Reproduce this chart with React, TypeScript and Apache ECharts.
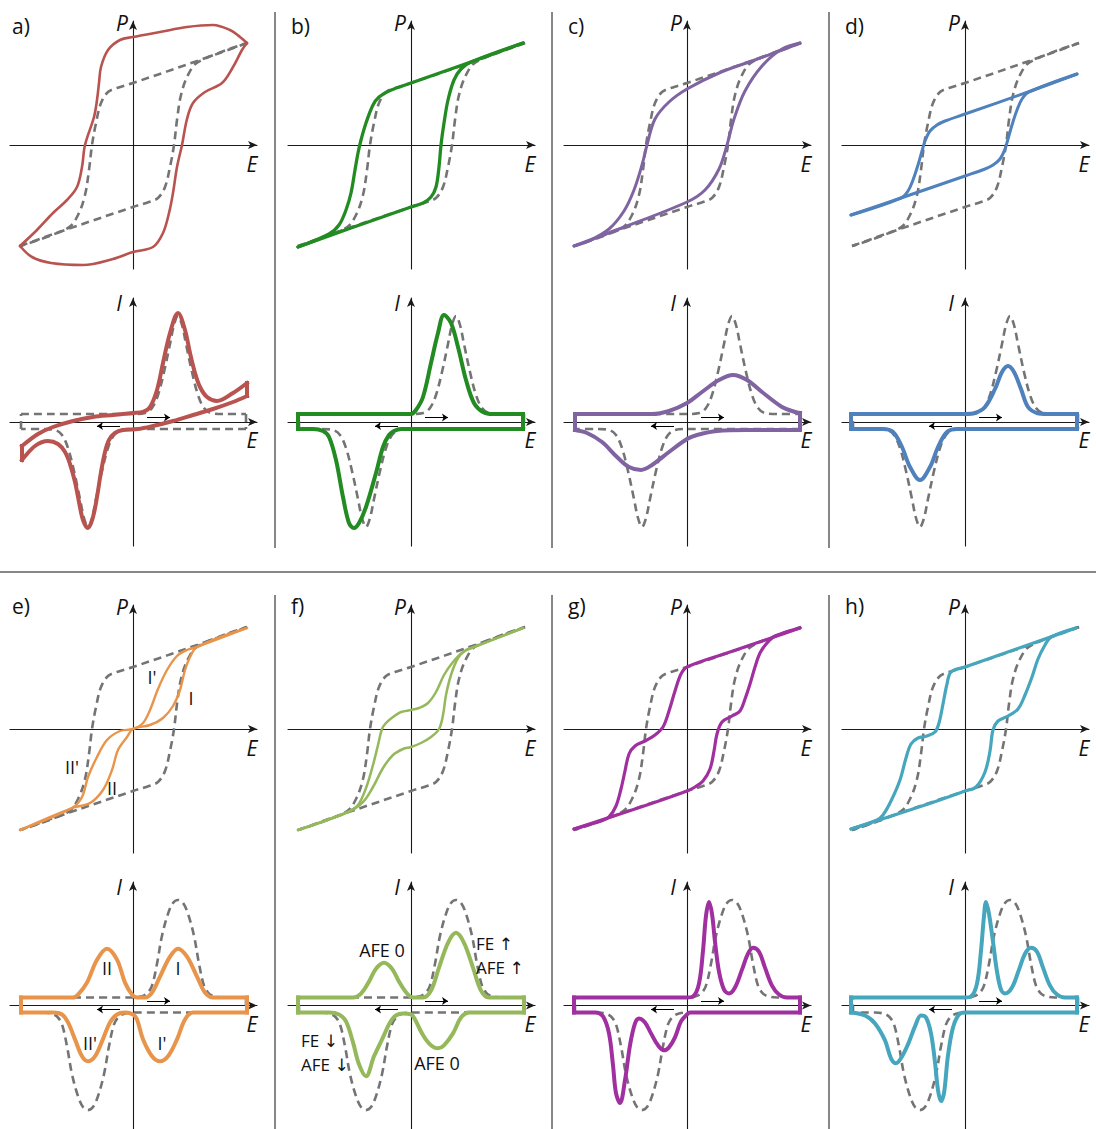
import React, { useEffect, useRef } from "react";
import * as echarts from "echarts";

type Pt = [number, number];

// ---------- reference (grey dashed) curves ----------
const refPUp: Pt[] = [[114,102],[67,85],[0,62],[-16,57],[-25,53],[-32,42],[-37,22],[-41,0],[-44,-25],[-48,-50],[-55,-70],[-65,-83],[-113,-101]];
const refPDown: Pt[] = [[-113,-101],[-65,-84],[0,-62],[16,-57],[25,-53],[32,-42],[37,-22],[41,0],[44,25],[48,50],[55,70],[65,83],[114,102]];
const refIUpTop: Pt[] = [[-112,8],[0,8],[12,9],[19,14],[25,27],[31,50],[37,78],[41,97],[45,106],[49,97],[53,78],[59,50],[65,27],[71,14],[78,9],[90,8],[113,8]];
const refIDownTop: Pt[] = [[113,-7],[0,-7],[-12,-8],[-19,-13],[-25,-26],[-31,-49],[-37,-77],[-41,-96],[-45,-105],[-49,-96],[-53,-77],[-59,-49],[-65,-26],[-71,-13],[-78,-8],[-90,-7],[-112,-7]];
const refIUpBottom: Pt[] = [[-112,8],[0,8],[8,9],[14,12],[19,20],[24,42],[29,70],[35,92],[40,103],[45,106],[50,103],[55,92],[61,70],[66,42],[71,20],[76,12],[82,9],[90,8],[113,8]];
const refIDownBottom: Pt[] = [[113,-7],[0,-7],[-8,-8],[-14,-11],[-19,-19],[-24,-41],[-29,-69],[-35,-91],[-40,-102],[-45,-105],[-50,-102],[-55,-91],[-61,-69],[-66,-41],[-71,-19],[-76,-11],[-82,-8],[-90,-7],[-112,-7]];

// ---------- a) ----------
const aPUp: Pt[] = [[114,102],[107,108],[97,115],[80,120],[54,118],[27,113],[0,108],[-13,105],[-25,95],[-32,78],[-34,62],[-36,45],[-39,28],[-48,0],[-51,-22],[-56,-42],[-66,-55],[-80,-68],[-96,-85],[-113,-101]];
const aPDown: Pt[] = [[-113,-101],[-101,-112],[-82,-118],[-50,-120],[-20,-114],[0,-107],[20,-102],[30,-88],[36,-68],[40,-48],[44,-22],[49,0],[54,26],[60,42],[72,53],[89,62],[100,78],[109,95],[114,102]];
const aIUp: Pt[] = [[-111,-24],[-95,-12],[-80,-5],[-60,1],[-40,5],[-20,7],[0,9],[10,10],[17,15],[24,32],[30,59],[37,89],[45,109],[52,92],[57,69],[62,49],[67,35],[74,25],[84,21],[100,29],[114,39]];
const aIDown: Pt[] = [[114,26],[100,20],[80,13],[60,7],[40,1],[20,-4],[5,-7],[-10,-8],[-18,-11],[-24,-18],[-28,-30],[-32,-50],[-36,-75],[-40,-95],[-45,-106],[-50,-98],[-54,-80],[-58,-60],[-63,-42],[-68,-30],[-75,-22],[-85,-19],[-98,-24],[-111,-38]];

// ---------- b) ----------
const bPUp: Pt[] = [[112,102],[57,82],[0,62],[-22,54],[-32,48],[-38,40],[-45,22],[-50,5],[-53,-8],[-56,-25],[-60,-48],[-65,-65],[-72,-80],[-82,-89],[-113,-102]];
const bPDown: Pt[] = [[-113,-102],[-60,-83],[0,-62],[12,-58],[20,-52],[25,-42],[28,-22],[30,0],[33,22],[37,45],[43,65],[50,76],[60,83],[112,102]];
const bIUp: Pt[] = [[-113,8],[-40,8],[0,8],[5,12],[12,25],[20,59],[27,89],[33,107],[40,99],[47,75],[55,42],[63,19],[72,10],[82,8],[112,8]];
const bIDown: Pt[] = [[112,-7],[20,-7],[-10,-7],[-17,-9],[-22,-13],[-28,-25],[-35,-51],[-45,-85],[-52,-101],[-57,-106],[-62,-101],[-68,-75],[-75,-38],[-82,-15],[-88,-9],[-98,-7],[-113,-7]];

// ---------- c) ----------
const cPUp: Pt[] = [[113,102],[95,95],[65,84],[32,72],[0,56],[-18,43],[-32,26],[-40,0],[-45,-20],[-53,-45],[-63,-66],[-78,-84],[-98,-96],[-113,-101]];
const cPDown: Pt[] = [[-113,-101],[-68,-84],[0,-57],[18,-45],[32,-24],[40,0],[47,26],[58,54],[75,79],[95,96],[113,102]];
const cIUp: Pt[] = [[-112,8],[-35,8],[-18,11],[0,19],[15,30],[32,42],[46,47],[60,42],[75,30],[95,15],[108,10],[113,9]];
const cIDown: Pt[] = [[113,-8],[60,-8],[30,-9],[10,-13],[0,-17],[-18,-30],[-35,-43],[-46,-48],[-58,-45],[-70,-35],[-85,-20],[-100,-11],[-112,-8]];

// ---------- d) ----------
const dPUp: Pt[] = [[112,71],[63,53],[0,31],[-20,24],[-28,20],[-35,14],[-40,4],[-43,-6],[-47,-20],[-52,-35],[-57,-46],[-64,-53],[-114,-70]];
const dPDown: Pt[] = [[-114,-70],[-64,-53],[0,-31],[20,-24],[28,-20],[35,-14],[40,-4],[43,6],[47,20],[52,35],[57,46],[64,53],[112,71]];
const dIUp: Pt[] = [[-114,8],[0,8],[10,9],[20,15],[30,33],[37,50],[43,56],[49,50],[56,33],[63,15],[72,9],[82,8],[112,8]];
const dIDown: Pt[] = [[112,-7],[-8,-7],[-18,-10],[-27,-25],[-35,-45],[-45,-58],[-55,-45],[-63,-25],[-72,-10],[-82,-7],[-114,-7]];

// ---------- e) ----------
const ePUp: Pt[] = [[114,101],[64,82],[54,79],[44,73],[34,59],[25,40],[17,19],[10,6],[0,0],[-13,-2],[-26,-11],[-36,-28],[-45,-48],[-51,-68],[-61,-79],[-113,-101]];
const ePDown: Pt[] = [[-113,-101],[-61,-79],[-43,-74],[-30,-61],[-21,-41],[-15,-21],[-6,-8],[0,0],[17,4],[30,11],[40,23],[47,39],[52,59],[57,72],[64,82],[114,101]];
const eIUp: Pt[] = [[-112,8],[-60,8],[-55,11],[-46,23],[-36,46],[-26,57],[-16,46],[-8,23],[-1,11],[4,8],[12,8],[19,13],[27,29],[37,49],[45,57],[54,49],[64,29],[72,13],[80,8],[114,8]];
const eIDown: Pt[] = [[114,-7],[60,-7],[52,-14],[44,-34],[35,-51],[27,-56],[19,-51],[10,-34],[4,-14],[0,-9],[-8,-7],[-16,-9],[-23,-17],[-31,-36],[-38,-51],[-45,-56],[-51,-51],[-58,-34],[-65,-17],[-71,-9],[-80,-7],[-112,-7]];

// ---------- f) ----------
const fPUp: Pt[] = [[112,101],[63,82],[52,77],[42,67],[33,54],[25,37],[17,26],[8,21],[0,19],[-10,17],[-18,12],[-25,6],[-29,0],[-33,-16],[-38,-36],[-45,-59],[-53,-76],[-63,-83],[-113,-101]];
const fPDown: Pt[] = [[-113,-101],[-63,-83],[-48,-73],[-38,-58],[-28,-39],[-18,-26],[-8,-20],[0,-18],[10,-14],[20,-8],[28,0],[32,14],[35,34],[40,54],[47,71],[55,79],[63,82],[112,101]];
const fIUp: Pt[] = [[-113,8],[-58,8],[-50,12],[-42,24],[-35,37],[-27,43],[-19,37],[-12,24],[-4,12],[2,8],[12,8],[20,15],[28,38],[37,63],[45,73],[53,63],[62,38],[70,15],[78,8],[113,8]];
const fIDown: Pt[] = [[113,-7],[58,-7],[50,-12],[42,-28],[33,-40],[27,-43],[19,-39],[11,-28],[4,-14],[0,-9],[-8,-8],[-15,-10],[-21,-17],[-28,-32],[-37,-51],[-45,-71],[-52,-59],[-58,-37],[-65,-16],[-72,-9],[-82,-7],[-113,-7]];

// ---------- g) ----------
const gPUp: Pt[] = [[113,101],[87,92],[40,76],[0,62],[-6,55],[-12,38],[-18,18],[-24,2],[-32,-6],[-42,-12],[-52,-17],[-58,-25],[-62,-42],[-66,-60],[-71,-77],[-78,-88],[-86,-92],[-113,-100]];
const gPDown: Pt[] = [[-113,-100],[-40,-76],[0,-62],[8,-58],[16,-52],[23,-40],[27,-22],[30,-5],[35,7],[45,13],[53,18],[58,30],[63,45],[68,62],[73,76],[80,86],[88,93],[113,101]];
const gIUp: Pt[] = [[-113,8],[0,8],[6,9],[12,22],[16,55],[19,90],[22,104],[25,92],[28,64],[32,34],[37,16],[42,12],[48,18],[55,36],[61,52],[66,58],[72,54],[78,38],[85,20],[92,11],[100,8],[113,8]];
const gIDown: Pt[] = [[113,-7],[3,-7],[0,-9],[-6,-16],[-12,-32],[-18,-42],[-23,-45],[-29,-40],[-36,-28],[-42,-17],[-48,-13],[-52,-18],[-57,-40],[-62,-75],[-67,-98],[-71,-88],[-74,-60],[-78,-28],[-84,-11],[-92,-7],[-113,-7]];

// ---------- h) ----------
const hPUp: Pt[] = [[111,101],[40,76],[0,62],[-14,57],[-18,45],[-22,25],[-26,6],[-30,-3],[-38,-7],[-47,-9],[-54,-15],[-59,-29],[-65,-51],[-74,-72],[-82,-86],[-88,-91],[-114,-100]];
const hPDown: Pt[] = [[-114,-100],[-40,-76],[0,-62],[11,-58],[20,-43],[25,-22],[28,-1],[33,8],[43,13],[53,20],[60,34],[67,52],[73,70],[80,84],[86,92],[111,101]];
const hIUp: Pt[] = [[-114,8],[0,8],[6,9],[12,22],[16,55],[19,90],[21,104],[24,92],[28,64],[32,34],[36,16],[40,12],[47,18],[54,36],[60,52],[66,58],[72,54],[78,38],[85,20],[92,11],[100,8],[112,8]];
const hIDown: Pt[] = [[112,-7],[0,-7],[-6,-9],[-12,-22],[-17,-50],[-21,-88],[-24,-96],[-27,-85],[-30,-57],[-34,-28],[-39,-12],[-44,-10],[-50,-21],[-57,-39],[-64,-53],[-69,-58],[-74,-53],[-80,-35],[-90,-18],[-100,-10],[-114,-7]];

// ---------- panel definitions ----------
const panelLetters = ["a)", "b)", "c)", "d)", "e)", "f)", "g)", "h)"];
const panelColors = ["#b9534f", "#228b22", "#8064a2", "#4f81bd", "#e8944a", "#94b85a", "#a0309f", "#46a6be"];
const panelPBranches: Pt[][][] = [
  [aPUp, aPDown], [bPUp, bPDown], [cPUp, cPDown], [dPUp, dPDown],
  [ePUp, ePDown], [fPUp, fPDown], [gPUp, gPDown], [hPUp, hPDown],
];
const panelIBranches: Pt[][][] = [
  [aIUp, aIDown], [bIUp, bIDown], [cIUp, cIDown], [dIUp, dIDown],
  [eIUp, eIDown], [fIUp, fIDown], [gIUp, gIDown], [hIUp, hIDown],
];

// ---------- layout ----------
const FONT = '"Open Sans", "Noto Sans", "DejaVu Sans", sans-serif';
const COLS = [133, 411, 687, 965];
const ROW_P = [145, 729];
const ROW_I = [422, 1006];
const LETTER_X = [12, 291, 568, 845];
const LETTER_Y = [26, 606];
const P_WIDTHS = [2.6, 3.3, 3, 3, 2.4, 2.5, 3.2, 3.2];
const GREY = "#747474";

function axis(gi: number, min: number, max: number) {
  return {
    type: "value",
    gridIndex: gi,
    min,
    max,
    axisLine: {
      show: true,
      onZero: true,
      symbol: ["none", "arrow"],
      symbolSize: [6, 9],
      lineStyle: { color: "#1a1a1a", width: 1.1 },
    },
    axisTick: { show: false },
    axisLabel: { show: false },
    splitLine: { show: false },
  };
}

function curve(data: Pt[], gi: number, color: string, width: number, dashed: boolean, smooth: number, cap: string, z: number) {
  return {
    type: "line",
    xAxisIndex: gi,
    yAxisIndex: gi,
    data,
    smooth,
    symbol: "none",
    showSymbol: false,
    silent: true,
    animation: false,
    clip: false,
    z,
    lineStyle: { color, width, type: dashed ? [8, 5] : "solid", cap, join: "round" },
  };
}

function text(t: string, x: number, y: number, size: number, italic: boolean, align = "center") {
  return {
    type: "text",
    silent: true,
    z: 100,
    style: {
      text: t,
      x,
      y,
      font: `${italic ? "italic " : ""}${size}px ${FONT}`,
      lineHeight: size,
      fill: "#111",
      textAlign: align,
      align,
      textVerticalAlign: "middle",
      verticalAlign: "middle",
    },
  };
}

function vline(x: number, y1: number, y2: number) {
  return { type: "line", silent: true, z: 100, shape: { x1: x, y1, x2: x, y2 }, style: { stroke: "#111", lineWidth: 1 } };
}

function buildOption() {
  const grid: any[] = [];
  const xAxis: any[] = [];
  const yAxis: any[] = [];
  const series: any[] = [];
  const graphic: any[] = [];

  panelLetters.forEach((letter, k) => {
    const col = k % 4;
    const row = Math.floor(k / 4);
    const cx = COLS[col];
    const color = panelColors[k];

    // P-E grid
    const gp = grid.length;
    grid.push({ left: cx - 123, top: ROW_P[row] - 124, width: 247, height: 248 });
    xAxis.push(axis(gp, -123, 124));
    yAxis.push(axis(gp, -124, 124));
    series.push(curve(refPUp, gp, GREY, 2.6, true, 0.35, "butt", 2));
    series.push(curve(refPDown, gp, GREY, 2.6, true, 0.35, "butt", 2));
    panelPBranches[k].forEach((b) => series.push(curve(b, gp, color, P_WIDTHS[k], false, 0.35, "round", 3)));

    // I-E grid
    const gi = grid.length;
    grid.push({ left: cx - 123, top: ROW_I[row] - 124, width: 247, height: 248 });
    xAxis.push(axis(gi, -123, 124));
    yAxis.push(axis(gi, -124, 124));
    const rUp = row === 0 ? refIUpTop : refIUpBottom;
    const rDown = row === 0 ? refIDownTop : refIDownBottom;
    const refUpSeries: any = curve(rUp, gi, GREY, 2.6, true, 0.35, "butt", 2);
    refUpSeries.markLine = {
      silent: true,
      animation: false,
      symbol: ["none", "arrow"],
      symbolSize: 6,
      label: { show: false },
      lineStyle: { color: "#000", width: 1, type: "solid" },
      emphasis: { disabled: true },
      data: [
        [{ coord: [14, 4.5] }, { coord: [37, 4.5] }],
        [{ coord: [-13, -4] }, { coord: [-36, -4] }],
      ],
    };
    series.push(refUpSeries);
    series.push(curve(rDown, gi, GREY, 2.6, true, 0.35, "butt", 2));
    series.push(curve([rUp[rUp.length - 1], rDown[0]], gi, GREY, 2.6, true, 0, "butt", 2));
    series.push(curve([rDown[rDown.length - 1], rUp[0]], gi, GREY, 2.6, true, 0, "butt", 2));
    const [iu, id] = panelIBranches[k];
    series.push(curve(iu, gi, color, 4, false, 0.35, "square", 3));
    series.push(curve(id, gi, color, 4, false, 0.35, "square", 3));
    series.push(curve([iu[iu.length - 1], id[0]], gi, color, 4, false, 0, "square", 3));
    series.push(curve([id[id.length - 1], iu[0]], gi, color, 4, false, 0, "square", 3));

    // labels
    graphic.push(text(letter, LETTER_X[col], LETTER_Y[row], 21, false, "left"));
    graphic.push(text("P", cx - 11, ROW_P[row] - 122, 21, true));
    graphic.push(text("E", cx + 119, ROW_P[row] + 19, 21, true));
    graphic.push(text("I", cx - 14, ROW_I[row] - 119, 21, true));
    graphic.push(text("E", cx + 119, ROW_I[row] + 18, 21, true));
  });

  // annotations panel e
  graphic.push(text("I'", 152, 677, 18, false));
  graphic.push(text("I", 191, 698, 18, false));
  graphic.push(text("II'", 72, 767, 18, false));
  graphic.push(text("II", 112, 788, 18, false));
  graphic.push(text("II", 107, 968, 18, false));
  graphic.push(text("I", 178, 968, 18, false));
  graphic.push(text("II'", 90, 1043, 18, false));
  graphic.push(text("I'", 162, 1043, 18, false));
  // annotations panel f
  graphic.push(text("AFE 0", 382, 950, 18, false));
  graphic.push(text("FE ↑", 476, 943, 17, false, "left"));
  graphic.push(text("AFE ↑", 476, 967, 17, false, "left"));
  graphic.push(text("FE ↓", 301, 1040, 17, false, "left"));
  graphic.push(text("AFE ↓", 301, 1064, 17, false, "left"));
  graphic.push(text("AFE 0", 437, 1063, 18, false));

  // separators
  [275, 552, 829].forEach((x) => {
    graphic.push(vline(x, 12, 548));
    graphic.push(vline(x, 595, 1129));
  });
  graphic.push({ type: "line", silent: true, z: 100, shape: { x1: 0, y1: 572, x2: 1096, y2: 572 }, style: { stroke: "#111", lineWidth: 1 } });

  return {
    animation: false,
    backgroundColor: "#ffffff",
    grid,
    xAxis,
    yAxis,
    series,
    graphic,
  };
}

export default function App() {
  const ref = useRef<HTMLDivElement>(null);
  useEffect(() => {
    if (!ref.current) return;
    const chart = echarts.init(ref.current, null, { renderer: "svg" });
    chart.setOption(buildOption() as any);
    return () => chart.dispose();
  }, []);
  return (
    <div
      ref={ref}
      style={{ position: "absolute", left: 0, top: 0, width: 1096, height: 1129, background: "#fff" }}
    />
  );
}
